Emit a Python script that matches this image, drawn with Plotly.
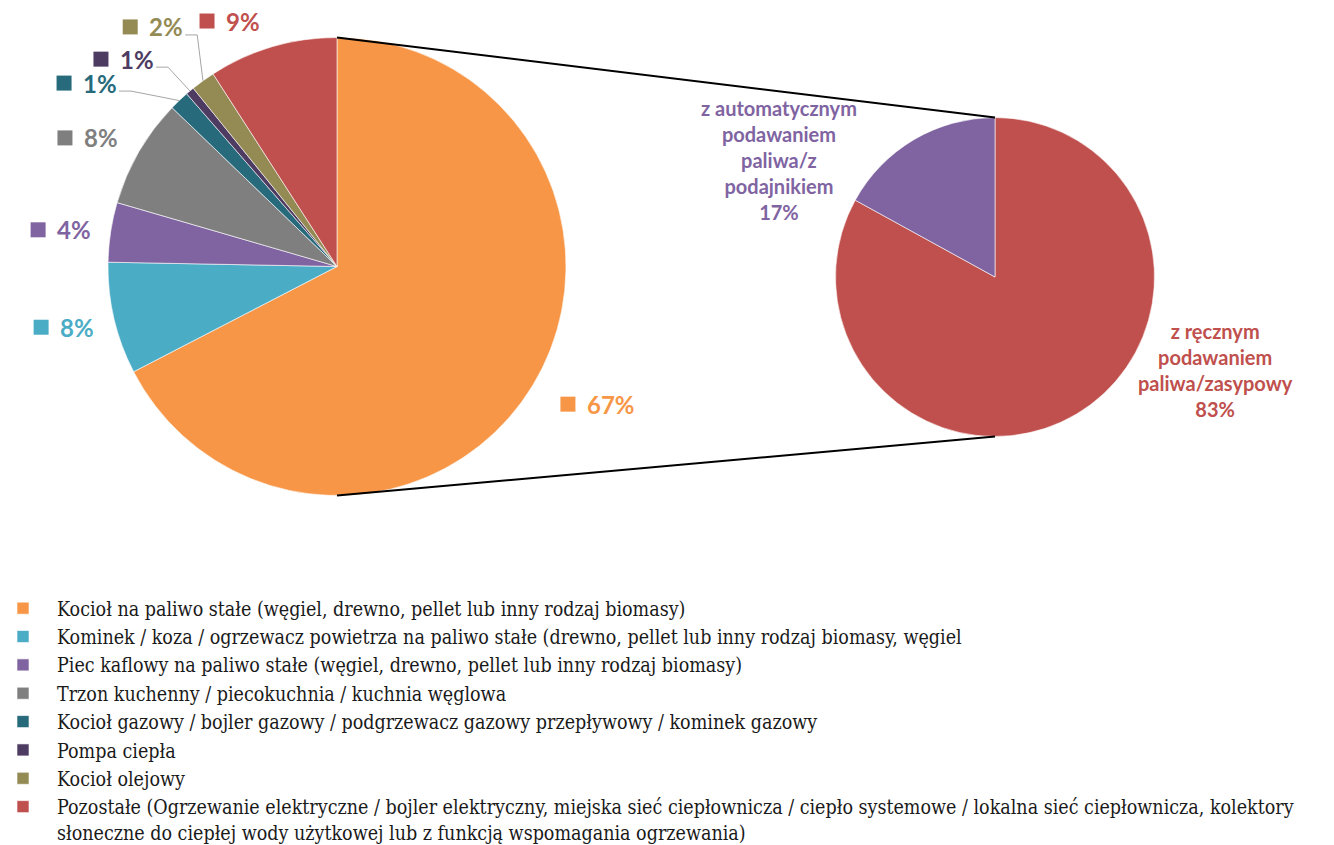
import math
import plotly.graph_objects as go

# ---------------- data ----------------
categories = [
    "Kocioł na paliwo stałe (węgiel, drewno, pellet lub inny rodzaj biomasy)",
    "Kominek / koza / ogrzewacz powietrza na paliwo stałe (drewno, pellet lub inny rodzaj biomasy, węgiel",
    "Piec kaflowy na paliwo stałe (węgiel, drewno, pellet lub inny rodzaj biomasy)",
    "Trzon kuchenny / piecokuchnia / kuchnia węglowa",
    "Kocioł gazowy / bojler gazowy / podgrzewacz gazowy przepływowy / kominek gazowy",
    "Pompa ciepła",
    "Kocioł olejowy",
    "Pozostałe (Ogrzewanie elektryczne / bojler elektryczny, miejska sieć ciepłownicza / ciepło systemowe / lokalna sieć ciepłownicza, kolektory<br>słoneczne do ciepłej wody użytkowej lub z funkcją wspomagania ogrzewania)",
]
values = [67.4, 7.9, 4.2, 7.7, 1.4, 0.6, 1.7, 9.1]

sub_labels = ["z ręcznym<br>podawaniem<br>paliwa/zasypowy",
              "z automatycznym<br>podawaniem<br>paliwa/z<br>podajnikiem"]
sub_values = [83, 17]

# ---------------- style ----------------
colors = ["#F79646", "#4BACC6", "#8064A2", "#7F7F7F", "#276A7C", "#4D3B62", "#948A54", "#C0504D"]
sub_colors = ["#C0504D", "#8064A2"]

PAGE_OFF = 8                      # default body margin of the html page
W, H = 1334 - PAGE_OFF, 845 - PAGE_OFF
C1, R1 = (337.0, 266.5), 229.0    # page-pixel geometry of the main pie
C2, R2 = (995.0, 277.0), 159.5    # page-pixel geometry of the detail pie

# label placement (angle in deg clockwise from 12 o'clock, radius factor) for the legend-key square
label_polar = [(120.8, 1.174), (258.4, 1.319), (277.0, 1.315), (295.3, 1.314),
               (303.9, 1.436), (311.3, 1.372), (319.2, 1.382), (332.1, 1.213)]
leader = [False, False, False, False, True, True, True, False]
sub_label_polar = [(112.9, 1.502), (298.4, 1.537)]

LABEL_FONT = "Lato"


def pp(x, y):
    return (x - PAGE_OFF) / W, 1 - (y - PAGE_OFF) / H


def dom(c, r):
    xa, ya = pp(c[0] - r, c[1] + r)
    xb, yb = pp(c[0] + r, c[1] - r)
    return dict(x=[xa, xb], y=[ya, yb])


def polar(c, r, theta, f=1.0):
    t = math.radians(theta)
    return c[0] + r * f * math.sin(t), c[1] - r * f * math.cos(t)


fig = go.Figure()
fig.add_trace(go.Pie(
    labels=categories, values=values, sort=False, direction="clockwise", rotation=0,
    marker=dict(colors=colors, line=dict(color="white", width=0.6)),
    textinfo="none", hoverinfo="label+percent", domain=dom(C1, R1), showlegend=True,
))
fig.add_trace(go.Pie(
    labels=sub_labels, values=sub_values, sort=False, direction="clockwise", rotation=0,
    marker=dict(colors=sub_colors, line=dict(color="white", width=0.6)),
    textinfo="none", hoverinfo="label+percent", domain=dom(C2, R2), showlegend=False,
))

shapes = []
annotations = []
total = sum(values)
cum = 0.0
for i, v in enumerate(values):
    a0 = cum / total * 360
    cum += v
    a1 = cum / total * 360
    mid = (a0 + a1) / 2
    th, f = label_polar[i]
    sx, sy = polar(C1, R1, th, f)
    x0, y0 = pp(sx - 7.5, sy + 7.5)
    x1, y1 = pp(sx + 7.5, sy - 7.5)
    shapes.append(dict(type="rect", xref="paper", yref="paper", x0=x0, x1=x1, y0=y0, y1=y1,
                       fillcolor=colors[i], line=dict(width=0)))
    tx, ty = pp(sx + 17, sy)
    annotations.append(dict(xref="paper", yref="paper", x=tx, y=ty, xanchor="left", yanchor="middle",
                            text="<b>%d%%</b>" % round(v / total * 100), showarrow=False,
                            font=dict(family=LABEL_FONT, size=24, color=colors[i])))
    if leader[i]:
        ex, ey = polar(C1, R1, mid, 1.0)
        p0 = (sx + 55, sy + 8)
        p1 = (sx + 67, sy + 8)
        path = "M {} {} L {} {} L {} {}".format(*pp(*p0), *pp(*p1), *pp(ex, ey))
        shapes.append(dict(type="path", xref="paper", yref="paper", path=path,
                           line=dict(color="#A6A6A6", width=1)))

for i, lab in enumerate(sub_labels):
    th, f = sub_label_polar[i]
    lx, ly = polar(C2, R2, th, f)
    x, y = pp(lx, ly)
    pct = round(sub_values[i] / sum(sub_values) * 100)
    annotations.append(dict(xref="paper", yref="paper", x=x, y=y, xanchor="center", yanchor="middle",
                            text="<b>%s<br>%d%%</b>" % (lab, pct), showarrow=False, align="center",
                            font=dict(family=LABEL_FONT, size=20, color=sub_colors[i])))

# connector lines between the two pies
for ang in (0, 180):
    ax, ay = polar(C1, R1, ang)
    bx, by = polar(C2, R2, ang)
    (px0, py0), (px1, py1) = pp(ax, ay), pp(bx, by)
    shapes.append(dict(type="line", xref="paper", yref="paper", x0=px0, y0=py0, x1=px1, y1=py1,
                       line=dict(color="black", width=2)))

lx0, ly0 = pp(-11, 589)
fig.update_layout(
    width=W, height=H,
    margin=dict(l=0, r=0, t=0, b=0, autoexpand=False),
    paper_bgcolor="white", plot_bgcolor="white",
    shapes=shapes, annotations=annotations,
    legend=dict(x=lx0, y=ly0, xanchor="left", yanchor="top", valign="top", itemwidth=58,
                font=dict(family="DejaVu Serif Condensed, Liberation Serif", size=19.5, color="#1a1a1a"),
                bgcolor="rgba(0,0,0,0)", tracegroupgap=0, traceorder="normal"),
)

fig.write_html("out.html")
